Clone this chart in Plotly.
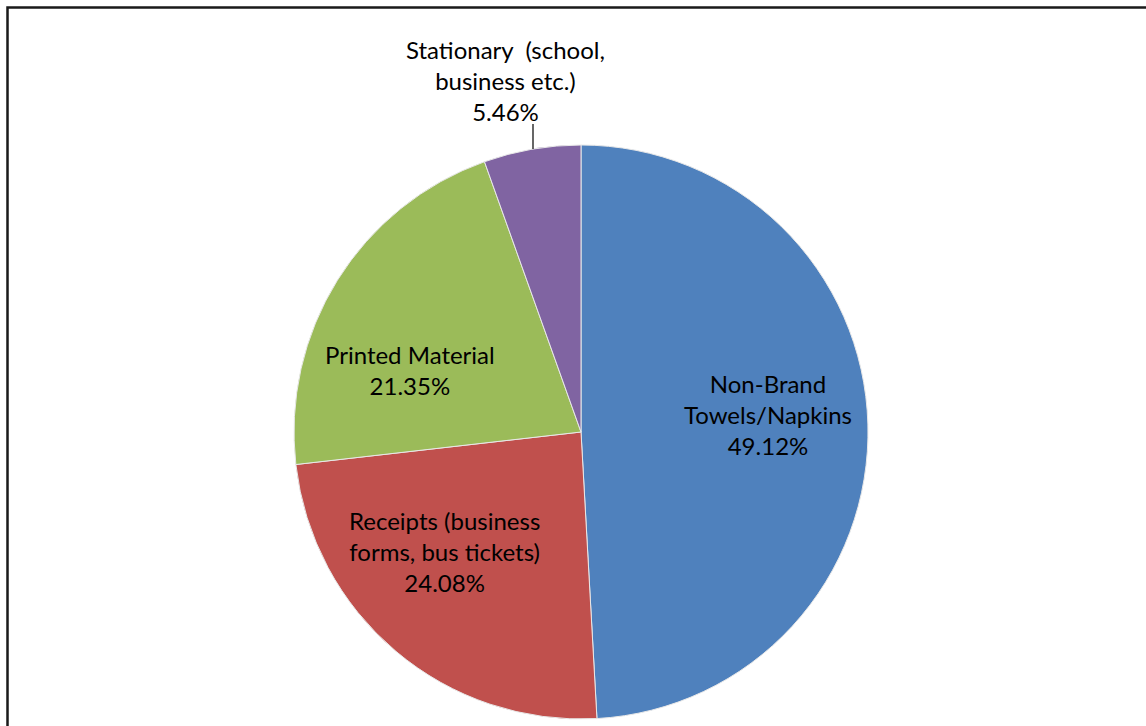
import plotly.graph_objects as go

# Paper usage shares by category
categories = [
    "Non-Brand Towels/Napkins",
    "Receipts (business forms, bus tickets)",
    "Printed Material",
    "Stationary (school, business etc.)",
]
shares = [49.12, 24.08, 21.35, 5.46]
label_lines = [
    ["Non-Brand", "Towels/Napkins"],
    ["Receipts (business", "forms, bus tickets)"],
    ["Printed Material"],
    ["Stationary  (school,", "business etc.)"],
]
colors = ["#4F81BD", "#C0504D", "#9BBB59", "#8064A2"]

W, H = 1146, 726
cx, cy, r = 581, 432, 287

fig = go.Figure(
    go.Pie(
        labels=categories,
        values=shares,
        sort=False,
        direction="clockwise",
        rotation=0,
        marker=dict(colors=colors, line=dict(color="#E8E8E8", width=1)),
        textinfo="none",
        hoverinfo="label+percent",
        showlegend=False,
        domain=dict(x=[(cx - r) / W, (cx + r) / W], y=[1 - (cy + r) / H, 1 - (cy - r) / H]),
    )
)

# label anchor points (pixel centres of each text block)
label_pos = [(768, 414), (444, 551), (410, 370), (505, 80)]
FONT = dict(family="Lato, Calibri, sans-serif", size=24, color="#000000")

annotations = []
for lines, val, (px, py) in zip(label_lines, shares, label_pos):
    text = "<br>".join(lines + [f"{val:.2f}%"])
    annotations.append(
        dict(
            x=px / W, y=1 - py / H, xref="paper", yref="paper",
            text=text, showarrow=False, font=FONT, align="center",
            xanchor="center", yanchor="middle",
        )
    )

shapes = [
    # leader line for the small slice label
    dict(type="line", xref="paper", yref="paper",
         x0=533 / W, x1=533 / W, y0=1 - 124 / H, y1=1 - 149 / H,
         line=dict(color="#000000", width=1.2)),
    # chart frame
    dict(type="rect", xref="paper", yref="paper",
         x0=7.5 / W, x1=1.1, y0=-0.1, y1=1 - 7.5 / H,
         line=dict(color="#1a1a1a", width=2.5)),
]

fig.update_layout(
    width=W, height=H,
    margin=dict(l=0, r=0, t=0, b=0),
    paper_bgcolor="white", plot_bgcolor="white",
    annotations=annotations,
    shapes=shapes,
)

fig.write_html("out.html")
